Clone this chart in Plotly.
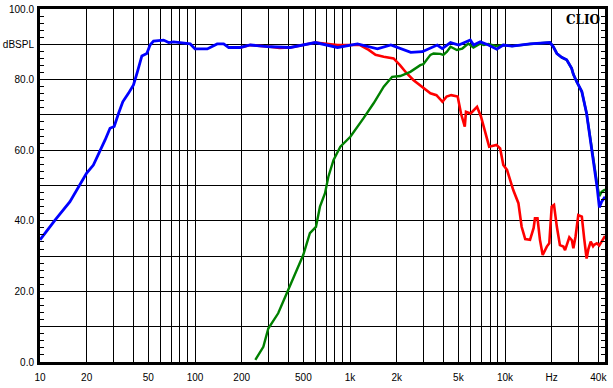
import plotly.graph_objects as go

# ---------------- data ----------------
blue_f = [10, 12.5, 15.6, 18.1, 20, 22.1, 24.4, 26.3, 28.3, 30.1, 32.1, 34.2, 37.2, 40.1, 42.5,
          45.4, 48.9, 51.3, 54, 62.7, 67.6, 72.8, 93.2, 100, 120, 139, 153, 165, 196, 227, 306,
          412, 598, 831, 1117, 1503, 1834, 2466, 2928, 3476, 3653, 3936, 4449, 5027, 5973, 6270,
          6925, 7820, 8840, 9750, 11100, 14500, 17800, 19500, 20500, 21600, 23200, 25000, 26900,
          27600, 29000, 31300, 33600, 35300, 36200, 37000, 38300, 39400, 40600, 42000, 44200]
blue_db = [34.6, 40.2, 45.4, 50.1, 53.5, 55.8, 59.6, 62.9, 66.2, 66.7, 70.4, 73.7, 76.1, 78.5, 82.2,
           86.7, 87.4, 89.8, 90.9, 91.2, 90.5, 90.7, 90.1, 88.7, 88.7, 90.1, 90.1, 89.1, 89.1, 89.8, 89.3,
           89.1, 90.5, 89.1, 90.1, 88.7, 89.8, 87.7, 87.9, 89.3, 89.8, 88.8, 90.5, 89.8, 91.2, 89.8,
           90.7, 89.8, 88.6, 89.8, 89.5, 90.1, 90.5, 90.5, 89.3, 87.4, 86.3, 85.6, 83.2,
           81.5, 79.4, 76.6, 70.4, 63.8, 61.0, 57.0, 52.0, 49.0, 43.8, 45.4, 46.8]

red_f = [196, 227, 306, 350, 412, 598, 831, 1000, 1160, 1320, 1460, 1650, 1910, 2100, 2320, 2560,
         2800, 2970, 3300, 3610, 3950, 4200, 4500, 4950, 5200, 5500, 5600, 6000, 6600, 7000, 7600,
         7900, 8800, 9300, 9750, 10300, 11300, 12200, 12800, 13500, 14500, 15300, 15600, 16200,
         16800, 17500, 18600, 19300, 20000, 20700, 21600, 22600, 23800, 24400, 26000, 27000, 27600,
         28500, 29700, 31300, 32400, 33600, 34500, 35700, 37000, 37600, 39100, 40500, 42000, 44200]
red_db = [89.1, 89.8, 89.3, 89.0, 89.1, 90.5, 89.8, 89.8, 89.8, 88.4, 87.0, 86.5, 86.0, 84.1, 81.8, 79.9,
          78.5, 77.5, 76.1, 75.6, 73.7, 75.2, 75.6, 75.2, 70.4, 66.7, 70.9, 70.4, 72.3, 69.5, 63.8,
          61.0, 61.5, 60.5, 55.8, 54.4, 48.7, 45.0, 38.3, 34.8, 34.6, 38.0, 40.7, 40.7,
          34.6, 30.3, 32.7, 33.6, 44.0, 44.5, 38.3, 33.1, 32.7, 31.7, 35.3, 34.5, 32.2,
          35.5, 41.6, 41.2, 35.0, 29.3, 32.0, 34.1, 32.8, 33.2, 33.6, 33.0, 34.1, 35.7]

green_f = [245, 276, 297, 344, 399, 452, 499, 551, 603, 640, 690, 725, 782, 866, 1005, 1220, 1420,
           1650, 1870, 2110, 2450, 2840, 2980, 3300, 3460, 3820, 4000, 4220, 4450, 4890, 5300, 5800,
           6250, 6900, 7300, 7800, 8800, 9750, 11100, 14500, 17800, 19500, 20500, 21600, 23200,
           25000, 26900, 27600, 29000, 31300, 33600, 35300, 36200, 37000, 38300, 39400, 40600,
           42000, 44200]
green_db = [0.6, 4.3, 9.5, 13.8, 20.4, 26.1, 30.3, 36.5, 38.3, 44.0, 47.8, 52.5, 57.2, 61.0, 63.8, 69.0, 73.3,
            78.0, 80.8, 81.0, 82.2, 84.1, 84.4, 87.0, 87.4, 87.3, 87.0, 87.9, 89.3, 88.4, 88.8, 90.2,
            89.1, 90.2, 89.8, 90.1, 89.5, 89.8, 89.5, 90.1, 90.5, 90.5, 89.3, 87.4, 86.3,
            85.6, 83.2, 81.5, 79.4, 76.6, 70.4, 63.8, 61.0, 57.0, 53.0, 50.0, 47.0,
            48.2, 48.9]

x_tickvals = [10, 20, 30, 40, 50, 60, 70, 80, 90, 100, 200, 300, 400, 500, 600, 700, 800, 900,
              1000, 2000, 3000, 4000, 5000, 6000, 7000, 8000, 9000, 10000, 20000, 30000, 40000]
x_ticktext = ["10", "20", "", "", "50", "", "", "", "", "100", "200", "", "", "500", "", "", "", "",
              "1k", "2k", "", "", "5k", "", "", "", "", "10k", "Hz", "", "40k"]
y_tickvals = [0, 10, 20, 30, 40, 50, 60, 70, 80, 90, 100]
y_ticktext = ["0.0", "", "20.0", "", "40.0", "", "60.0", "", "80.0", "dBSPL", "100.0"]

# ---------------- figure ----------------
fig = go.Figure()
fig.add_trace(go.Scatter(x=red_f, y=red_db, mode="lines",
                         line=dict(color="#ff0000", width=2.6), showlegend=False))
fig.add_trace(go.Scatter(x=green_f, y=green_db, mode="lines",
                         line=dict(color="#008000", width=2.4), showlegend=False))
fig.add_trace(go.Scatter(x=blue_f, y=blue_db, mode="lines",
                         line=dict(color="#0000ff", width=2.8), showlegend=False))

fig.update_layout(
    width=613, height=388,
    margin=dict(l=40, r=8, t=9, b=26, autoexpand=False),
    paper_bgcolor="white", plot_bgcolor="white",
    font=dict(family="Liberation Sans, Arial, sans-serif", size=10, color="black"),
    xaxis=dict(type="log", range=[1, 4.645], tickvals=x_tickvals, ticktext=x_ticktext,
               showgrid=True, gridcolor="black", gridwidth=1, zeroline=False,
               showline=True, linecolor="black", linewidth=3, mirror=True,
               ticks="", ticklabelstandoff=4, automargin=False),
    yaxis=dict(range=[0, 100], tickvals=y_tickvals, ticktext=y_ticktext,
               showgrid=True, gridcolor="black", gridwidth=1, zeroline=False,
               showline=True, linecolor="black", linewidth=3, mirror="ticks",
               ticks="inside", ticklen=4, tickcolor="black", tickwidth=1,
               ticklabelstandoff=1, automargin=False,
               minor=dict(dtick=2, tick0=0, ticks="inside", ticklen=4, tickcolor="black",
                          tickwidth=1, showgrid=False)),
    annotations=[dict(text="<b>CLIO</b>", xref="paper", yref="paper", x=1, y=1,
                      xanchor="right", yanchor="top", xshift=-3, yshift=-2, showarrow=False,
                      font=dict(family="DejaVu Serif, Liberation Serif, serif", size=12, color="black"))],
)

fig.write_html("out.html", config={"displayModeBar": False},
               post_script="document.body.style.margin='0';document.body.style.overflow='hidden';")
